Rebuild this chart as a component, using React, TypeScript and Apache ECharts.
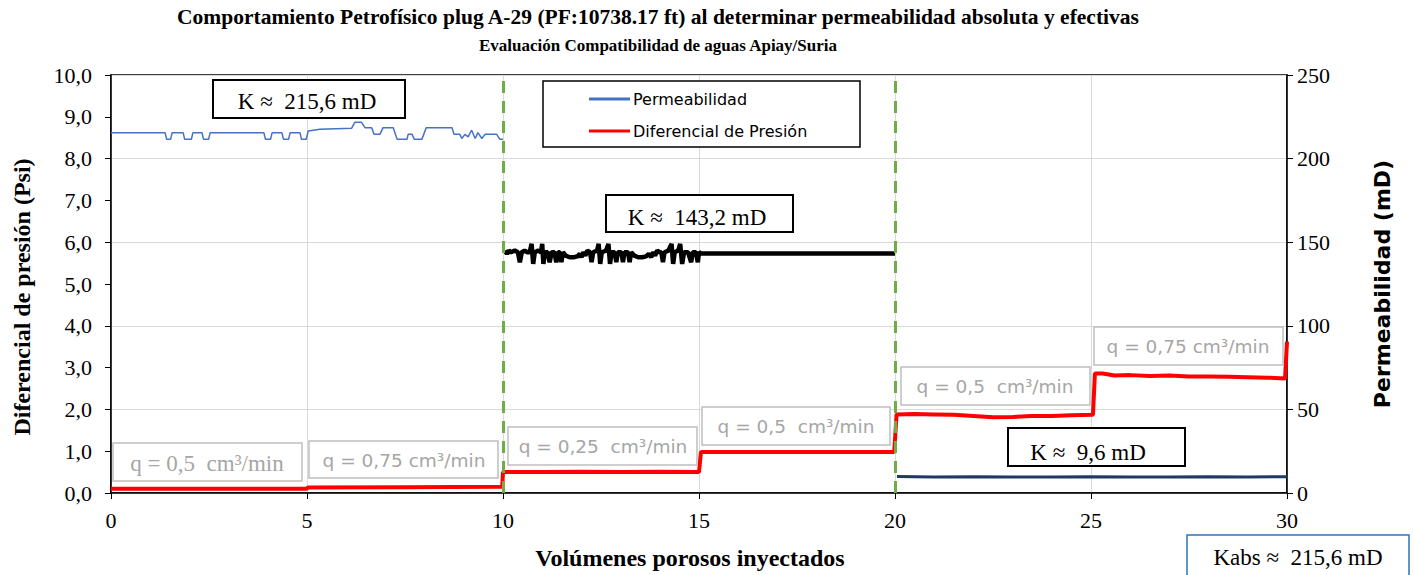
import React, { useEffect, useRef } from "react";
import * as echarts from "echarts";

// ---------- data ----------
const xTicks = [0, 5, 10, 15, 20, 25, 30];

// Diferencial de presión (Psi)
const dpX = [0, 2.5, 4.99, 5.02, 7.5, 9.98, 10.0, 11.0, 12.0, 13.0, 14.0, 15.0, 15.05, 17.5, 19.98, 20.04, 20.5, 21.0, 21.5, 22.0, 22.5, 23.0, 23.5, 24.0, 24.5, 25.05, 25.1, 25.3, 25.6, 26.0, 26.5, 27.0, 27.5, 28.0, 28.5, 29.0, 29.5, 29.95, 30.0];
const dpY = [0.1, 0.1, 0.1, 0.13, 0.14, 0.15, 0.5, 0.5, 0.51, 0.5, 0.51, 0.5, 0.98, 0.98, 0.98, 1.88, 1.89, 1.88, 1.87, 1.84, 1.81, 1.82, 1.84, 1.84, 1.86, 1.87, 2.86, 2.86, 2.81, 2.82, 2.8, 2.81, 2.79, 2.79, 2.78, 2.77, 2.76, 2.74, 3.62];

// Permeabilidad (mD) segment 0-10 (blue)
const kBlueX = [0, 1.38, 1.42, 1.52, 1.56, 1.84, 1.88, 2.05, 2.09, 2.32, 2.36, 2.49, 2.53, 3.9, 3.94, 4.07, 4.11, 4.36, 4.4, 4.53, 4.57, 4.82, 4.86, 4.98, 5.03, 5.33, 6.14, 6.22, 6.39, 6.48, 6.65, 6.71, 6.86, 6.94, 7.2, 7.3, 7.55, 7.58, 7.68, 7.74, 7.93, 8.04, 8.7, 8.75, 8.9, 8.95, 9.03, 9.11, 9.2, 9.29, 9.36, 9.46, 9.54, 9.84, 9.92, 10.0];
const kBlueY = [215.5, 215.5, 211.5, 211.5, 215.5, 215.5, 211.5, 211.5, 215.5, 215.5, 211.5, 211.5, 215.5, 215.5, 211.5, 211.5, 215.5, 215.5, 211.5, 211.5, 215.5, 215.5, 211.5, 211.5, 216.5, 217.5, 218.2, 221.7, 221.7, 218.5, 218.5, 214.5, 214.5, 218.5, 218.5, 211.5, 211.5, 214.5, 214.5, 211.5, 211.5, 218.5, 218.5, 214.5, 214.5, 212, 214.5, 213, 217, 212, 215.5, 212, 214.5, 214.5, 211.5, 211.5];

// Permeabilidad (mD) segment 10-20 (black)
const kBlackX = [10.05, 10.1, 10.15, 10.2, 10.3, 10.38, 10.43, 10.48, 10.55, 10.62, 10.68, 10.73, 10.77, 10.81, 10.9, 10.97, 11.0, 11.03, 11.07, 11.14, 11.19, 11.24, 11.31, 11.36, 11.41, 11.45, 11.49, 11.53, 11.6, 11.7, 11.8, 11.9, 11.96, 12.0, 12.05, 12.1, 12.15, 12.22, 12.26, 12.3, 12.4, 12.44, 12.48, 12.52, 12.63, 12.69, 12.73, 12.77, 12.85, 12.89, 12.93, 13.02, 13.06, 13.1, 13.19, 13.23, 13.27, 13.35, 13.45, 13.55, 13.65, 13.72, 13.78, 13.83, 13.88, 13.93, 14.0, 14.04, 14.08, 14.12, 14.22, 14.3, 14.34, 14.38, 14.47, 14.52, 14.57, 14.62, 14.72, 14.8, 14.84, 14.92, 14.97, 15.0, 15.05, 20.0];
const kBlackY = [145, 143, 145, 144, 145, 144, 138, 144, 145, 144, 144, 149, 137, 144, 145, 144, 149, 137, 144, 144, 138, 144, 144, 138, 144, 144, 138, 144, 142, 141, 141, 141.5, 143, 141, 144, 142, 145, 144, 138, 144, 145, 149, 137, 144, 145, 149, 137, 144, 144, 138, 144, 144, 138, 144, 144, 138, 144, 142, 141, 141, 141.5, 143, 141, 144, 142, 145, 144, 144, 138, 144, 145, 149, 137, 144, 145, 149, 137, 144, 144, 138, 144, 144, 138, 144, 143.2, 143.2];

// Permeabilidad (mD) segment 20-30 (navy)
const kNavyX = [20.05, 21.0, 22.0, 23.0, 24.0, 25.0, 26.0, 27.0, 28.0, 29.0, 30.0];
const kNavyY = [9.8, 9.6, 9.7, 9.6, 9.6, 9.7, 9.6, 9.6, 9.7, 9.6, 9.7];

const pair = (xs: number[], ys: number[]) => xs.map((x, i) => [x, ys[i]]);

const SERIF = "'Liberation Serif', 'Times New Roman', serif";
const SANS = "'DejaVu Sans', 'Noto Sans', sans-serif";

function box(x: number, y: number, w: number, h: number, text: string, tx: number, ty: number, stroke: string, color: string, font: string, size: number, lw = 1.5) {
  return [
    { type: "rect", shape: { x, y, width: w, height: h }, style: { fill: "#fff", stroke, lineWidth: lw }, z: 50 },
    {
      type: "text",
      x: tx,
      y: ty,
      style: { text, fill: color, font: `${size}px ${font}`, textAlign: "center", textVerticalAlign: "middle" },
      z: 51,
    },
  ];
}

export default function App() {
  const ref = useRef<HTMLDivElement>(null);
  useEffect(() => {
    if (!ref.current) return;
    const chart = echarts.init(ref.current, undefined, { renderer: "svg" });
    const gray = "#a6a6a6";
    const grayB = "#bfbfbf";
    chart.setOption({
      animation: false,
      backgroundColor: "#fff",
      title: {
        text: "{a|Comportamiento Petrofísico plug A-29 (PF:10738.17 ft) al determinar permeabilidad absoluta y efectivas}\n{b|Evaluación Compatibilidad de aguas Apiay/Suria}",
        left: 658,
        top: 3,
        padding: 0,
        textAlign: "center",
        textStyle: {
          fontFamily: SERIF,
          fontWeight: "bold",
          color: "#000",
          rich: {
            a: { fontFamily: SERIF, fontWeight: "bold", fontSize: 21.5, lineHeight: 28, color: "#000" },
            b: { fontFamily: SERIF, fontWeight: "bold", fontSize: 17, lineHeight: 28, color: "#000" },
          },
        },
      },
      legend: {
        data: ["Permeabilidad", "Diferencial de Presión"],
        orient: "vertical",
        left: 589,
        top: 89,
        padding: 0,
        z: 100,
        itemWidth: 41,
        itemHeight: 3,
        itemGap: 12,
        icon: "rect",
        textStyle: { fontFamily: SANS, fontSize: 16, color: "#000", lineHeight: 20, padding: [0, 0, 0, -2] },
      },
      grid: { left: 111, right: 126, top: 75, bottom: 82, show: true, borderColor: "#000", borderWidth: 1.5 },
      xAxis: {
        type: "value",
        min: 0,
        max: 30,
        interval: 5,
        name: "Volúmenes porosos inyectados",
        nameLocation: "middle",
        nameGap: 53,
        nameTextStyle: { fontFamily: SERIF, fontWeight: "bold", fontSize: 24, color: "#000", padding: [0, 18, 0, 0] },
        axisLine: { lineStyle: { color: "#000", width: 1.5 } },
        axisTick: { show: true, length: 6, lineStyle: { color: "#000" } },
        axisLabel: { fontFamily: SERIF, fontSize: 22, color: "#000", margin: 16, formatter: (v: number) => (xTicks.includes(v) ? String(v) : "") },
        splitLine: { show: true, lineStyle: { color: "#d9d9d9", width: 1 } },
      },
      yAxis: [
        {
          type: "value",
          min: 0,
          max: 10,
          interval: 1,
          name: "Diferencial de presión (Psi)",
          nameLocation: "middle",
          nameGap: 77,
          nameTextStyle: { fontFamily: SERIF, fontWeight: "bold", fontSize: 24, color: "#000", padding: [0, 26, 0, 0] },
          axisLine: { show: true, lineStyle: { color: "#000", width: 1.5 } },
          axisTick: { show: true, length: 6, lineStyle: { color: "#000" } },
          axisLabel: { fontFamily: SERIF, fontSize: 22, color: "#000", margin: 19, formatter: (v: number) => v.toFixed(1).replace(".", ",") },
          splitLine: { show: false },
        },
        {
          type: "value",
          min: 0,
          max: 250,
          interval: 50,
          position: "right",
          name: "Permeabilidad (mD)",
          nameLocation: "middle",
          nameGap: 84,
          nameTextStyle: { fontFamily: SANS, fontWeight: "bold", fontSize: 22, color: "#000" },
          axisLine: { show: true, lineStyle: { color: "#000", width: 1.5 } },
          axisTick: { show: true, length: 6, lineStyle: { color: "#000" } },
          axisLabel: { fontFamily: SERIF, fontSize: 22, color: "#000", margin: 10 },
          splitLine: { show: true, lineStyle: { color: "#d9d9d9", width: 1 } },
        },
      ],
      series: [
        {
          name: "Permeabilidad",
          type: "line",
          yAxisIndex: 1,
          data: pair(kBlueX, kBlueY),
          showSymbol: false,
          lineStyle: { color: "#4472C4", width: 1.5 },
          itemStyle: { color: "#4472C4" },
          z: 3,
        },
        {
          name: "Permeabilidad 10-20",
          type: "line",
          yAxisIndex: 1,
          data: pair(kBlackX, kBlackY),
          showSymbol: false,
          lineStyle: { color: "#000", width: 4.5 },
          itemStyle: { color: "#000" },
          z: 3,
        },
        {
          name: "Permeabilidad 20-30",
          type: "line",
          yAxisIndex: 1,
          data: pair(kNavyX, kNavyY),
          showSymbol: false,
          lineStyle: { color: "#203864", width: 3 },
          itemStyle: { color: "#203864" },
          z: 3,
        },
        {
          name: "Diferencial de Presión",
          type: "line",
          yAxisIndex: 0,
          data: pair(dpX, dpY),
          showSymbol: false,
          lineStyle: { color: "#FF0000", width: 4 },
          itemStyle: { color: "#FF0000" },
          z: 4,
          markLine: {
            silent: true,
            symbol: "none",
            label: { show: false },
            lineStyle: { color: "#70AD47", type: [12, 8], width: 3 },
            data: [{ xAxis: 10 }, { xAxis: 20 }],
            z: 5,
          },
        },
      ],
      graphic: [
        { type: "rect", shape: { x: 543, y: 81, width: 317, height: 66 }, style: { fill: "#fff", stroke: "#000", lineWidth: 1.5 }, z: 40, silent: true },
        ...box(213, 80, 192, 38, "K ≈  215,6 mD", 307, 101, "#000", "#000", SERIF, 23, 2),
        ...box(606, 195, 187, 37, "K ≈  143,2 mD", 697, 217, "#000", "#000", SERIF, 23, 2),
        ...box(1008, 428, 177, 38, "K ≈  9,6 mD", 1088, 452, "#000", "#000", SERIF, 23, 2),
        ...box(1187, 535, 222, 42, "Kabs ≈  215,6 mD", 1298, 557, "#2E75B6", "#000", SERIF, 23, 1.5),
        ...box(113, 443, 189, 38, "q = 0,5  cm³/min", 207, 463, grayB, gray, SERIF, 23),
        ...box(309, 441, 189, 37, "q = 0,75 cm³/min", 404, 460, grayB, gray, SANS, 18.5),
        ...box(508, 427, 189, 38, "q = 0,25  cm³/min", 603, 446, grayB, gray, SANS, 18.5),
        ...box(702, 407, 188, 38, "q = 0,5  cm³/min", 796, 426, grayB, gray, SANS, 18.5),
        ...box(901, 367, 189, 38, "q = 0,5  cm³/min", 995, 386, grayB, gray, SANS, 18.5),
        ...box(1094, 327, 189, 38, "q = 0,75 cm³/min", 1188, 346, grayB, gray, SANS, 18.5),
      ],
    });
    return () => chart.dispose();
  }, []);
  return <div ref={ref} style={{ position: "absolute", left: 0, top: 0, width: 1413, height: 575 }} />;
}
